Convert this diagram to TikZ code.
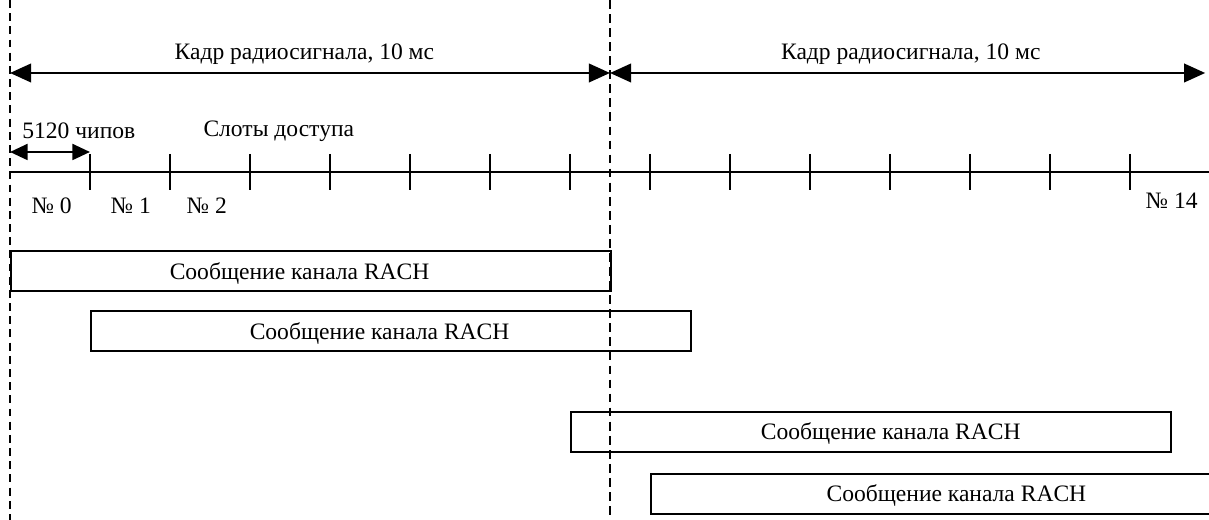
\documentclass[tikz,border=0pt]{standalone}
\usepackage{fontspec}
\setmainfont{Liberation Serif}
\usepackage{tikz}
\usetikzlibrary{arrows.meta, positioning}
\tikzset{
  span/.style={line width=1.4pt, {Triangle[length=12pt, width=10.5pt]}-{Triangle[length=12pt, width=10.5pt]}},
  chipspan/.style={line width=1.4pt, {Triangle[length=10pt, width=9pt]}-{Triangle[length=10pt, width=9pt]}},
  msgbox/.style={draw, line width=1.2pt, minimum width=12cm, minimum height=0.8cm, inner sep=0pt, anchor=south west},
  lbl/.style={font=\fontsize{13.4}{15}\selectfont, inner sep=1pt}
}

\begin{document}
\begin{tikzpicture}[x=1.6cm, y=1cm]
  \useasboundingbox (-0.2cm,0cm) rectangle (23.98cm,10.4cm);
  % ================================================================
  % frame borders
  % ================================================================
  \coordinate (bL0) at (0,10.4);   \coordinate (bL1) at (0,0);
  \coordinate (bM0) at (7.5,10.4); \coordinate (bM1) at (7.5,0);
  \draw[line width=0.6pt, dash pattern=on 4.5pt off 3pt] (bL0) -- (bL1);
  \draw[line width=1.1pt, dash pattern=on 5pt off 3pt] (bM0) -- (bM1);
  % radio frames ---------------------------------------------------
  \coordinate (f0) at (0,8.94);
  \coordinate (f1) at (7.5,8.94);
  \coordinate (f2) at (14.94,8.94);
  \draw[span] (f0) -- (f1);
  \draw[span] (f1) -- (f2);
  \node[lbl] (frA) at (3.68,9.32) {Кадр радиосигнала, 10 мс};
  \node[lbl] (frB) at (11.26,9.32) {Кадр радиосигнала, 10 мс};
  % access slots ---------------------------------------------------
  \coordinate (ax0) at (0,6.96);
  \coordinate (ax1) at (14.99,6.96);
  \draw[line width=1.4pt] (ax0) -- (ax1);
  \foreach \k in {1,...,14} {
    \draw[line width=0.6pt] (\k,7.32) -- (\k,6.6);
  }
  \coordinate (c0) at (0,7.36);
  \coordinate (c1) at (1,7.36);
  \draw[chipspan] (c0) -- (c1);
  \node[lbl] (chips) at (0.86,7.78) {5120 чипов};
  \node[lbl] (slots) at (3.36,7.78) {Слоты доступа};
  \node[lbl] (s0) at (0.52,6.28) {№ 0};
  \node[lbl] (s1) at (1.51,6.28) {№ 1};
  \node[lbl] (s2) at (2.46,6.28) {№ 2};
  \node[lbl] (s14) at (14.52,6.38) {№ 14};
  % RACH messages --------------------------------------------------
  \node[msgbox] (m1) at (0,4.56) {};
  \node[msgbox] (m2) at (1,3.36) {};
  \node[msgbox] (m3) at (7,1.34) {};
  \node[msgbox] (m4) at (8,0.1) {};
  \node[lbl] (t1) at (3.62,4.93) {Сообщение канала RACH};
  \node[lbl] (t2) at (4.62,3.73) {Сообщение канала RACH};
  \node[lbl] (t3) at (11.01,1.72) {Сообщение канала RACH};
  \node[lbl] (t4) at (11.83,0.48) {Сообщение канала RACH};
\end{tikzpicture}
\end{document}
